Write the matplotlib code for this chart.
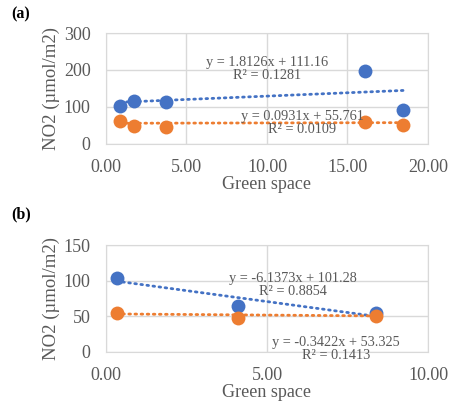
import matplotlib.pyplot as plt
from matplotlib.ticker import FormatStrFormatter

plt.rcParams['font.family'] = ['Liberation Serif', 'DejaVu Serif']

# panel (a)
a_x = [0.90, 1.74, 3.72, 16.10, 18.47]
a_blue = [102, 117, 113, 198, 92]
a_orange = [63, 49, 47, 60, 51]
a_fit_blue = (1.8126, 111.16, 0.1281)
a_fit_orange = (0.0931, 55.761, 0.0109)

# panel (b)
b_x = [0.33, 4.10, 8.40]
b_blue = [103, 65, 54]
b_orange = [54, 47, 50.5]
b_fit_blue = (-6.1373, 101.28, 0.8854)
b_fit_orange = (-0.3422, 53.325, 0.1413)

BLUE = '#4472C4'
ORANGE = '#ED7D31'
GREY = '#595959'
GRID = '#D9D9D9'


def fit_label(slope, icpt, r2):
    sign = '-' if icpt < 0 else '+'
    return f'y = {slope:g}x {sign} {abs(icpt):.{len(str(icpt).split(".")[1])}f}\nR² = {r2:.4f}'


def panel(ax, x, blue, orange, fb, fo, xmax, ymax, ystep, pos_b, pos_o):
    for ys, fit, c in [(blue, fb, BLUE), (orange, fo, ORANGE)]:
        xs = [min(x), max(x)]
        ax.plot(xs, [fit[0] * v + fit[1] for v in xs], color=c, lw=2,
                linestyle=(0, (0.6, 1.6)), dash_capstyle='round', zorder=2)
    for ys, c in [(blue, BLUE), (orange, ORANGE)]:
        ax.scatter(x, ys, s=100, color=c, zorder=3, linewidths=0)
    for pos, fit in [(pos_b, fb), (pos_o, fo)]:
        ax.text(*pos, fit_label(*fit), ha='center', va='center', fontsize=10.3,
                color=GREY, linespacing=1.05, zorder=4, clip_on=False)
    ax.set_xlim(0, xmax)
    ax.set_ylim(0, ymax)
    ax.set_xticks([i * 5 for i in range(int(xmax / 5) + 1)])
    ax.set_yticks(list(range(0, ymax + 1, ystep)))
    ax.xaxis.set_major_formatter(FormatStrFormatter('%.2f'))
    ax.grid(True, color=GRID, lw=1)
    ax.set_axisbelow(True)
    for s in ax.spines.values():
        s.set_color(GRID)
    ax.tick_params(length=0, labelsize=13, colors=GREY)
    ax.tick_params(axis='x', pad=11)
    ax.tick_params(axis='y', pad=11)
    ax.set_xlabel('Green space', fontsize=13, color=GREY, labelpad=0)
    ax.set_ylabel('NO2 (µmol/m2)', fontsize=13.5, color=GREY, labelpad=3)


fig = plt.figure(figsize=(4.51, 4.03), dpi=100)
ax1 = fig.add_axes([0.235, 0.643, 0.714, 0.275])
ax2 = fig.add_axes([0.235, 0.127, 0.714, 0.265])

panel(ax1, a_x, a_blue, a_orange, a_fit_blue, a_fit_orange, 20, 300, 100,
      (10.0, 202), (12.2, 56))
panel(ax2, b_x, b_blue, b_orange, b_fit_blue, b_fit_orange, 10, 150, 50,
      (5.8, 94), (7.15, 4))

fig.text(0.024, 0.965, '(a)', fontsize=11.5, fontweight='bold', va='center')
fig.text(0.024, 0.468, '(b)', fontsize=11.5, fontweight='bold', va='center')

fig.savefig('out.png', dpi=100)
